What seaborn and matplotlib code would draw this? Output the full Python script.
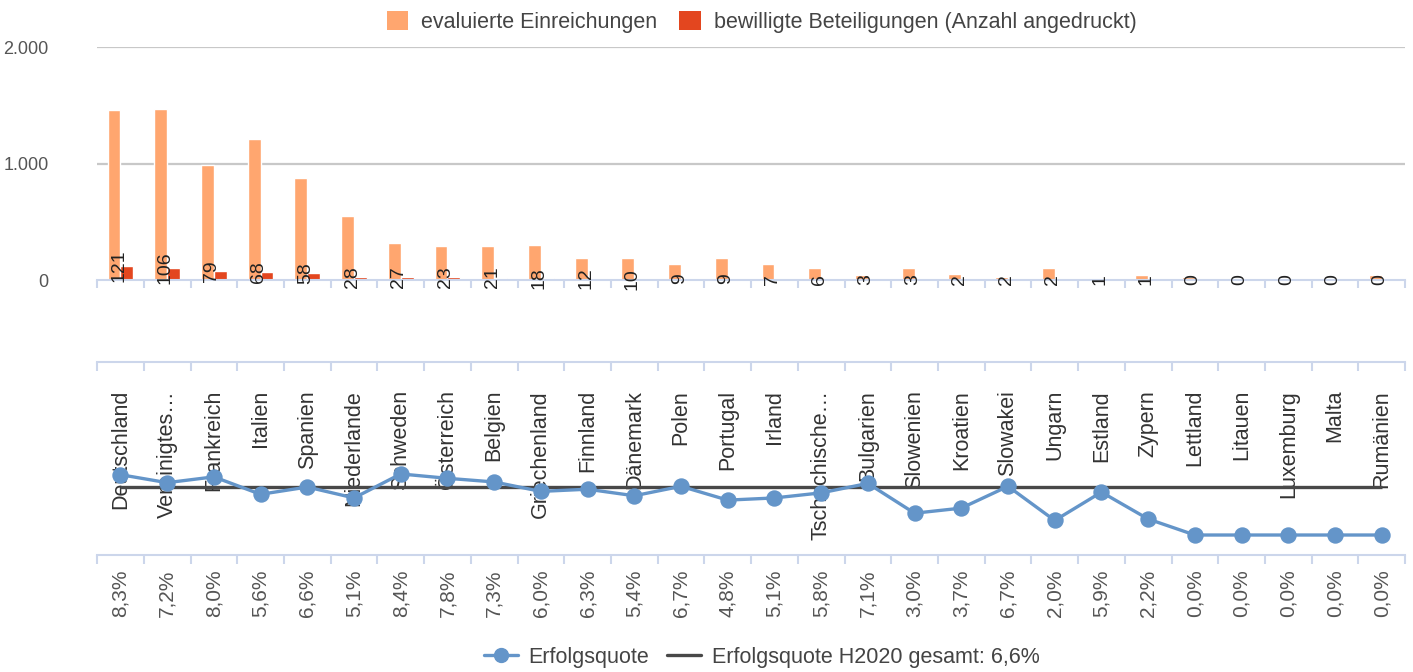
import matplotlib
matplotlib.use("Agg")
import matplotlib.pyplot as plt
import matplotlib.transforms as mtransforms
from matplotlib.patches import Patch
from matplotlib.lines import Line2D
import pandas as pd
import seaborn as sns

# --- data ---
countries = ["Deutschland", "Vereinigtes…", "Frankreich", "Italien", "Spanien",
             "Niederlande", "Schweden", "Österreich", "Belgien", "Griechenland",
             "Finnland", "Dänemark", "Polen", "Portugal", "Irland", "Tschechische…",
             "Bulgarien", "Slowenien", "Kroatien", "Slowakei", "Ungarn", "Estland",
             "Zypern", "Lettland", "Litauen", "Luxemburg", "Malta", "Rumänien"]
evaluated = [1458, 1472, 988, 1214, 879, 549, 321, 295, 288, 300, 190, 185, 134,
             188, 137, 103, 42, 100, 54, 30, 100, 17, 45, 25, 20, 15, 10, 45]
approved = [121, 106, 79, 68, 58, 28, 27, 23, 21, 18, 12, 10, 9, 9, 7, 6, 3, 3,
            2, 2, 2, 1, 1, 0, 0, 0, 0, 0]
rates = [8.3, 7.2, 8.0, 5.6, 6.6, 5.1, 8.4, 7.8, 7.3, 6.0, 6.3, 5.4, 6.7, 4.8,
         5.1, 5.8, 7.1, 3.0, 3.7, 6.7, 2.0, 5.9, 2.2, 0.0, 0.0, 0.0, 0.0, 0.0]
overall_rate = 6.6

n = len(rates)
countries = countries[:n]

series_names = ["evaluierte Einreichungen", "bewilligte Beteiligungen (Anzahl angedruckt)"]
c_orange = "#ffa66f"
c_red = "#e3461f"
c_blue = "#6495c9"
c_black = "#484848"
c_axis = "#ccd6eb"
c_grid = "#c8c8c8"
c_text = "#444444"

sns.set_style("white")
plt.rcParams["font.family"] = ["Liberation Sans", "DejaVu Sans"]

df = pd.DataFrame({
    "Land": countries * 2,
    "Wert": evaluated[:n] + approved[:n],
    "Reihe": [series_names[0]] * n + [series_names[1]] * n,
})

fig = plt.figure(figsize=(14.13, 6.72), dpi=100)
ax1 = fig.add_axes([0.0687, 0.5833, 0.9257, 0.3467])
ax2 = fig.add_axes([0.0687, 0.1741, 0.9257, 0.2872])

# --- top: bars ---
sns.barplot(data=df, x="Land", y="Wert", hue="Reihe", hue_order=series_names,
            order=countries, palette=[c_orange, c_red], width=0.55,
            saturation=1, legend=False, ax=ax1)
ax1.set_xlim(-0.5, n - 0.5)
ax1.set_ylim(0, 2000)
ax1.set_yticks([0, 1000, 2000])
ax1.set_yticklabels(["0", "1.000", "2.000"], fontsize=13, color="#555555")
ax1.tick_params(axis="y", length=0, pad=35)
for y in [1000, 2000]:
    ax1.axhline(y, color=c_grid, lw=1.6, zorder=0)
ax1.set_xticks([])
ax1.set_xlabel("")
ax1.set_ylabel("")
for s in ["top", "right", "left"]:
    ax1.spines[s].set_visible(False)
ax1.spines["bottom"].set_color(c_axis)
ax1.spines["bottom"].set_linewidth(1.5)

bounds = [i - 0.5 for i in range(n + 1)]
tr1 = mtransforms.blended_transform_factory(ax1.transData, ax1.transAxes)
ax1.vlines(bounds, -0.035, 0, transform=tr1, color=c_axis, lw=1.5, clip_on=False)

for i, v in enumerate(approved[:n]):
    ax1.text(i - 0.04, v, str(v), rotation=90, ha="center", va="center",
             fontsize=14, color="#222222", zorder=5)

# --- bottom: success rate ---
tr2 = mtransforms.blended_transform_factory(ax2.transData, ax2.transAxes)
for i, name in enumerate(countries):
    ax2.text(i, 0.855, name, rotation=90, ha="center", va="top", transform=tr2,
             fontsize=15.5, color="#333333", zorder=1)
    ax2.text(i, -0.075, f"{rates[i]:.1f}".replace(".", ",") + "%", rotation=90,
             ha="center", va="top", transform=tr2, fontsize=15, color="#555555",
             clip_on=False)

ax2.hlines(overall_rate, 0, n - 1, color=c_black, lw=2.4, zorder=3)
sns.pointplot(x=countries, y=rates[:n], order=countries, color=c_blue,
              errorbar=None, markers="o", markersize=10, linewidth=2.4, ax=ax2)
for coll in ax2.lines + ax2.collections:
    coll.set_zorder(4)

ax2.set_xlim(-0.5, n - 0.5)
ax2.set_ylim(-2.75, 23.8)
ax2.set_xticks([])
ax2.set_yticks([])
ax2.set_xlabel("")
ax2.set_ylabel("")
for s in ["left", "right"]:
    ax2.spines[s].set_visible(False)
for s in ["top", "bottom"]:
    ax2.spines[s].set_color(c_axis)
    ax2.spines[s].set_linewidth(1.5)
ax2.vlines(bounds, 1 - 0.045, 1, transform=tr2, color=c_axis, lw=1.5, clip_on=False)
ax2.vlines(bounds, -0.045, 0, transform=tr2, color=c_axis, lw=1.5, clip_on=False)

# --- legends ---
top_handles = [Patch(facecolor=c_orange, edgecolor="none", label=series_names[0]),
               Patch(facecolor=c_red, edgecolor="none", label=series_names[1])]
fig.legend(handles=top_handles, loc="center", bbox_to_anchor=(0.539, 0.968), ncol=2,
           frameon=False, fontsize=15.5, handlelength=1.0, handleheight=1.0,
           columnspacing=1.0, handletextpad=0.6, labelcolor=c_text)

bottom_handles = [Line2D([0], [0], color=c_blue, lw=2.4, marker="o", markersize=10,
                         label="Erfolgsquote"),
                  Line2D([0], [0], color=c_black, lw=2.4,
                         label="Erfolgsquote H2020 gesamt: " + f"{overall_rate:.1f}".replace(".", ",") + "%")]
fig.legend(handles=bottom_handles, loc="center", bbox_to_anchor=(0.539, 0.022), ncol=2,
           frameon=False, fontsize=15.5, handlelength=1.6, columnspacing=0.8,
           handletextpad=0.5, labelcolor=c_text)

fig.savefig("out.png", dpi=100)
